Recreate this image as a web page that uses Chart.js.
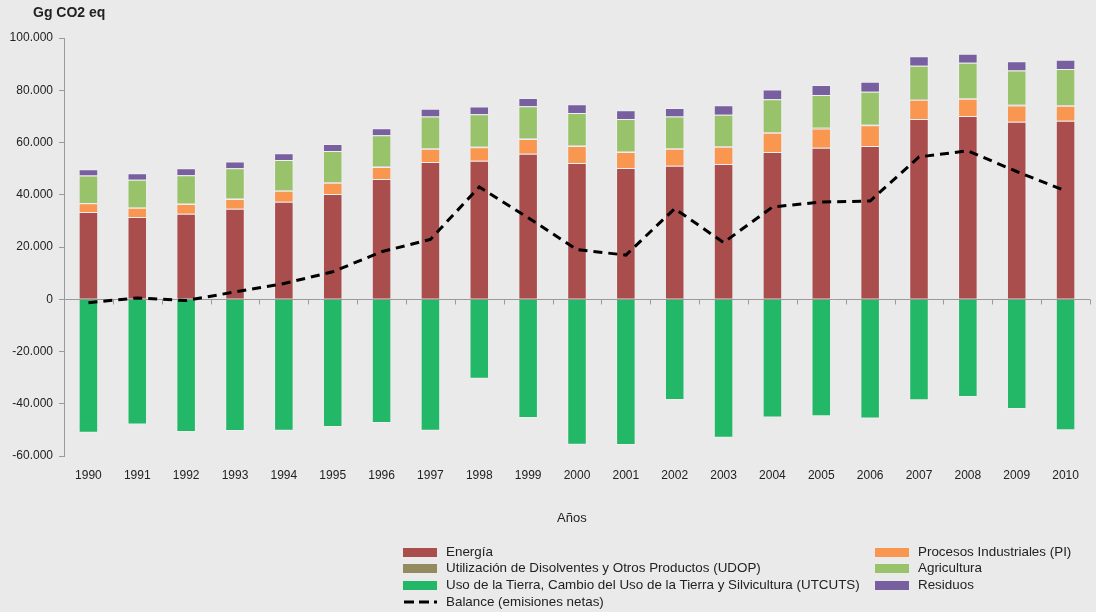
<!DOCTYPE html>
<html>
<head>
<meta charset="utf-8">
<script src="https://cdn.jsdelivr.net/npm/chart.js@4.4.1/dist/chart.umd.min.js"></script>
<style>
  html, body { margin: 0; padding: 0; background: #EAEAEA; }
  #wrap { position: relative; width: 1096px; height: 612px; background: #EAEAEA; font-family: "Liberation Sans", Arial, sans-serif; color: #222; }
  #c { position: absolute; left: 0; top: 0; }
  .txt { position: absolute; white-space: nowrap; }
  #unit { left: 33px; top: 4px; font-weight: bold; font-size: 14px; }
  #xtitle { left: 557px; top: 510px; font-size: 13px; }
  .lg { position: absolute; font-size: 13.4px; white-space: nowrap; height: 16px; line-height: 16px; }
  .sw { position: absolute; left: 0; top: 4px; width: 34px; height: 9px; }
  .lg span.t { position: absolute; left: 43px; top: 0; }
</style>
</head>
<body>
<div id="wrap">
  <canvas id="c" width="1096" height="612"></canvas>
  <div class="txt" id="unit">Gg CO2 eq</div>
  <div class="txt" id="xtitle">Años</div>
  <div id="legend"></div>
</div>
<script>
const years = ['1990','1991','1992','1993','1994','1995','1996','1997','1998','1999','2000','2001','2002','2003','2004','2005','2006','2007','2008','2009','2010'];
const energia   = [33400,31500,32700,34600,37300,40300,46000,52500,53000,55700,52200,50200,51100,51800,56400,58000,58700,69000,70100,67900,68300];
const procesos  = [3300,3500,3800,3800,4200,4300,4600,5100,5200,5600,6500,6200,6500,6600,7300,7400,7900,7400,6600,6300,5800];
const udop      = [150,150,150,160,160,170,170,180,180,190,190,200,200,200,210,210,220,220,220,210,210];
const agricultura = [10550,10550,10850,11540,11640,11930,12030,12220,12420,12410,12410,12400,12200,12000,12690,12590,12580,12780,13580,13190,13790];
const residuos  = [2400,2500,2600,2600,2600,2700,2700,2900,3000,3100,3300,3300,3200,3700,3700,3800,3900,3600,3500,3500,3600];
const utcuts    = [-51100,-47900,-50800,-50400,-50300,-48900,-47400,-50300,-30400,-45500,-55700,-55800,-38600,-53000,-45300,-44800,-45600,-38700,-37400,-42000,-50100];
const balance   = [-1300,500,-500,2800,6000,10500,18200,22900,43000,31200,19000,16900,34700,21700,35300,37200,37600,54500,56800,48900,41500];
const yTicks    = [-60000,-40000,-20000,0,20000,40000,60000,80000,100000];

const colors = {
  energia: '#AA4E4D',
  procesos: '#F99650',
  udop: '#948A5F',
  agricultura: '#98C36B',
  utcuts: '#22B867',
  residuos: '#785F9F'
};

function fmt(v) {
  const neg = v < 0; let s = String(Math.abs(v));
  s = s.replace(/\B(?=(\d{3})+(?!\d))/g, '.');
  return (neg ? '-' : '') + s;
}

const zeroAxis = {
  id: 'zeroAxis',
  beforeDatasetsDraw(chart) {
    const {ctx, chartArea, scales: {x, y}} = chart;
    const y0 = Math.round(y.getPixelForValue(0)) + 0.5;
    const half = (x.getPixelForValue(1) - x.getPixelForValue(0)) / 2;
    ctx.save();
    ctx.strokeStyle = '#9A9A9A';
    ctx.lineWidth = 1;
    ctx.beginPath();
    ctx.moveTo(chartArea.left, y0);
    ctx.lineTo(chartArea.right, y0);
    for (let i = 0; i < years.length; i++) {
      const px = Math.round(x.getPixelForValue(i) + half) + 0.5;
      ctx.moveTo(px, y0);
      ctx.lineTo(px, y0 + 5);
    }
    ctx.stroke();
    ctx.restore();
  }
};

const barDs = (label, data, color) => ({
  type: 'bar', label, data, backgroundColor: color,
  borderColor: 'rgba(255,255,255,0.25)', borderWidth: 1,
  stack: 'e', order: 1,
  barPercentage: 0.4, categoryPercentage: 1.0
});

new Chart(document.getElementById('c'), {
  data: {
    labels: years,
    datasets: [
      barDs('Energía', energia, colors.energia),
      barDs('Procesos Industriales (PI)', procesos, colors.procesos),
      barDs('Utilización de Disolventes y Otros Productos (UDOP)', udop, colors.udop),
      barDs('Agricultura', agricultura, colors.agricultura),
      barDs('Residuos', residuos, colors.residuos),
      barDs('Uso de la Tierra, Cambio del Uso de la Tierra y Silvicultura (UTCUTS)', utcuts, colors.utcuts),
      {
        type: 'line', label: 'Balance (emisiones netas)', data: balance,
        borderColor: '#000', borderWidth: 3, borderDash: [9, 6],
        pointRadius: 0, tension: 0, fill: false, stack: 'b', order: 0
      }
    ]
  },
  plugins: [zeroAxis],
  options: {
    responsive: false,
    animation: false,
    layout: { padding: { left: 0, right: 6, top: 38, bottom: 0 } },
    plugins: { legend: { display: false }, tooltip: { enabled: false } },
    scales: {
      x: {
        stacked: true,
        grid: { display: false },
        border: { display: false },
        ticks: { color: '#222', font: { family: 'Liberation Sans', size: 12 }, padding: 4, maxRotation: 0, autoSkip: false },
        afterFit(scale) { scale.height = 156; }
      },
      y: {
        stacked: true,
        min: -60000, max: 100000,
        afterBuildTicks(scale) { scale.ticks = yTicks.map(v => ({ value: v })); },
        ticks: { color: '#222', font: { family: 'Liberation Sans', size: 12 }, padding: 6, callback: v => fmt(v) },
        grid: { drawOnChartArea: false, drawTicks: true, tickLength: 5, color: '#9A9A9A' },
        border: { display: true, color: '#9A9A9A' },
        afterFit(scale) { scale.width = 64; }
      }
    }
  }
});

const legendItems = [
  { t: 'Energía', c: colors.energia, x: 403, y: 544 },
  { t: 'Utilización de Disolventes y Otros Productos (UDOP)', c: colors.udop, x: 403, y: 560 },
  { t: 'Uso de la Tierra, Cambio del Uso de la Tierra y Silvicultura (UTCUTS)', c: colors.utcuts, x: 403, y: 577 },
  { t: 'Balance (emisiones netas)', c: null, x: 403, y: 594 },
  { t: 'Procesos Industriales (PI)', c: colors.procesos, x: 875, y: 544 },
  { t: 'Agricultura', c: colors.agricultura, x: 875, y: 560 },
  { t: 'Residuos', c: colors.residuos, x: 875, y: 577 }
];
const lg = document.getElementById('legend');
legendItems.forEach(it => {
  const d = document.createElement('div');
  d.className = 'lg';
  d.style.left = it.x + 'px'; d.style.top = it.y + 'px';
  let sw;
  if (it.c) {
    sw = '<div class="sw" style="background:' + it.c + '"></div>';
  } else {
    sw = '<svg style="position:absolute;left:0;top:3px" width="36" height="10"><line x1="1" y1="5" x2="35" y2="5" stroke="#000" stroke-width="3" stroke-dasharray="10,5,10,5,3"/></svg>';
  }
  d.innerHTML = sw + '<span class="t">' + it.t + '</span>';
  lg.appendChild(d);
});
</script>
</body>
</html>
